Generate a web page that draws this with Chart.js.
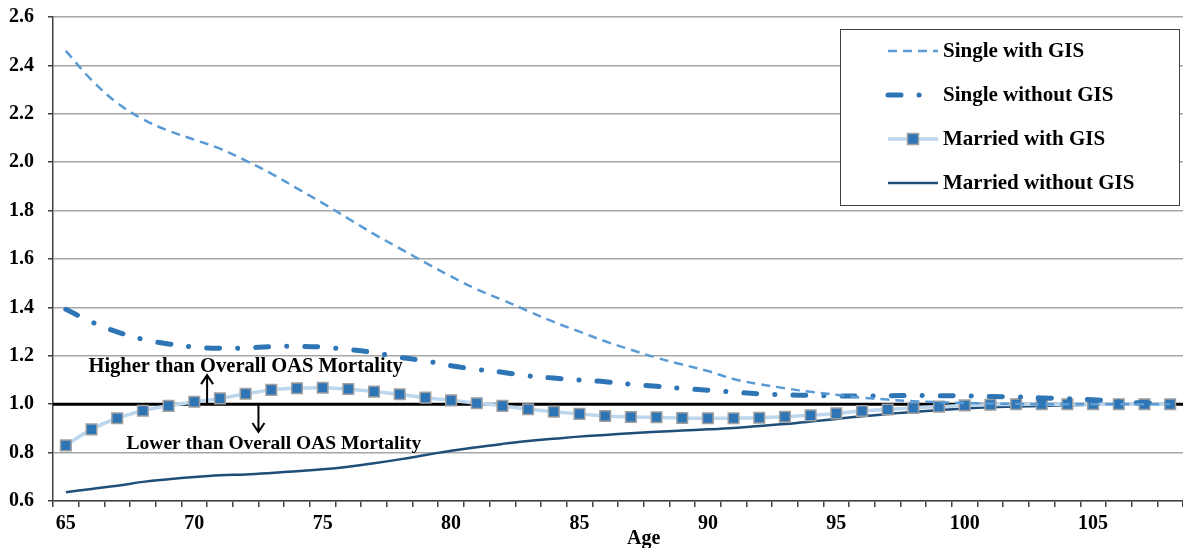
<!DOCTYPE html>
<html>
<head>
<meta charset="utf-8">
<title>Mortality ratio by age</title>
<script src="https://cdn.jsdelivr.net/npm/chart.js@4.4.1/dist/chart.umd.min.js"></script>
<style>
  html, body { margin: 0; padding: 0; background: #fff; }
  #wrap { width: 1183px; height: 548px; }
</style>
</head>
<body>
<div id="wrap"><canvas id="chart" width="1183" height="548"></canvas></div>
<script>
// Ages on the x axis
const ages = [65, 66, 67, 68, 69, 70, 71, 72, 73, 74, 75, 76, 77, 78, 79, 80, 81, 82, 83, 84, 85, 86,
    87, 88, 89, 90, 91, 92, 93, 94, 95, 96, 97, 98, 99, 100, 101, 102, 103, 104, 105, 106, 107, 108];

// Ratio to overall OAS mortality
const singleWithGIS = [2.46, 2.34, 2.245, 2.178, 2.13, 2.093, 2.056, 2.007, 1.953, 1.892,
    1.831, 1.767, 1.703, 1.644, 1.585, 1.528, 1.475, 1.431, 1.385, 1.34,
    1.30, 1.26, 1.225, 1.192, 1.164, 1.137, 1.104, 1.083, 1.066, 1.051,
    1.039, 1.027, 1.019, 1.012, 1.008, 1.005, 1.003, 1.001, 1.0, 1.0,
    1.0, 1.0, 1.0, 1.0];
const singleWithoutGIS = [1.392, 1.34, 1.299, 1.268, 1.249, 1.236, 1.231, 1.232, 1.238, 1.239,
    1.236, 1.226, 1.213, 1.194, 1.179, 1.159, 1.144, 1.132, 1.117, 1.108,
    1.100, 1.093, 1.082, 1.074, 1.065, 1.058, 1.050, 1.043, 1.039, 1.036,
    1.034, 1.034, 1.035, 1.036, 1.035, 1.034, 1.032, 1.030, 1.026, 1.023,
    1.018, 1.010, 1.005, 1.003];
const marriedWithGIS = [0.830, 0.896, 0.942, 0.973, 0.993, 1.010, 1.024, 1.043, 1.059, 1.066,
    1.068, 1.063, 1.052, 1.041, 1.027, 1.016, 1.004, 0.993, 0.979, 0.969,
    0.960, 0.951, 0.947, 0.946, 0.943, 0.942, 0.942, 0.944, 0.948, 0.954,
    0.962, 0.972, 0.978, 0.985, 0.990, 0.995, 0.998, 1.0, 1.0, 1.0,
    1.0, 1.0, 1.0, 1.0];
const marriedWithoutGIS = [0.636, 0.650, 0.663, 0.679, 0.690, 0.699, 0.706, 0.710, 0.716, 0.723,
    0.731, 0.742, 0.756, 0.772, 0.790, 0.808, 0.822, 0.836, 0.848, 0.857,
    0.866, 0.873, 0.880, 0.886, 0.891, 0.896, 0.902, 0.910, 0.918, 0.928,
    0.939, 0.950, 0.960, 0.968, 0.975, 0.982, 0.987, 0.990, 0.993, 0.996,
    0.998, 1.0, 1.0, 1.0];

// Y axis range and the overall OAS reference level
const yMin = 0.6;
const yMax = 2.6;
const yStep = 0.2;
const baseline = 1.0;

const FONT = 'Liberation Serif';

// Reference line at 1.0 (drawn under the series)
const baselinePlugin = {
    id: 'baseline',
    beforeDatasetsDraw(chart) {
        const { ctx, chartArea, scales } = chart;
        const y = scales.y.getPixelForValue(baseline);
        ctx.save();
        ctx.strokeStyle = '#000';
        ctx.lineWidth = 3;
        ctx.beginPath();
        ctx.moveTo(chartArea.left, y);
        ctx.lineTo(chartArea.right, y);
        ctx.stroke();
        ctx.restore();
    }
};

function arrow(ctx, x, y1, y2) {
    const dir = y2 < y1 ? 1 : -1;
    ctx.beginPath();
    ctx.moveTo(x, y1);
    ctx.lineTo(x, y2);
    ctx.moveTo(x - 6, y2 + dir * 9);
    ctx.lineTo(x, y2);
    ctx.lineTo(x + 6, y2 + dir * 9);
    ctx.stroke();
}

// Higher / lower annotations, axis title and legend box
const annotationPlugin = {
    id: 'notes',
    afterDatasetsDraw(chart) {
        const { ctx, scales } = chart;
        const xs = scales.x, ys = scales.y;
        const px = age => xs.getPixelForValue(age - ages[0]);
        ctx.save();
        ctx.fillStyle = '#000';
        ctx.strokeStyle = '#000';
        ctx.lineWidth = 2;
        ctx.textAlign = 'center';
        ctx.textBaseline = 'middle';
        ctx.font = 'bold 20.5px "' + FONT + '"';
        ctx.fillText('Higher than Overall OAS Mortality', px(72), ys.getPixelForValue(1.155));
        ctx.font = 'bold 19.5px "' + FONT + '"';
        ctx.fillText('Lower than Overall OAS Mortality', px(73.1), ys.getPixelForValue(0.835));
        arrow(ctx, px(70.5), ys.getPixelForValue(baseline), ys.getPixelForValue(1.12));
        arrow(ctx, px(72.5), ys.getPixelForValue(baseline), ys.getPixelForValue(0.885));

        // x axis title
        ctx.font = 'bold 20px "' + FONT + '"';
        ctx.fillText('Age', px(87.5), chart.height - 9);

        // legend
        const bw = 339, bh = 176;
        const bx = chart.width - 4 - bw;
        const by = ys.top + 12;
        ctx.fillStyle = '#fff';
        ctx.fillRect(bx, by, bw, bh);
        ctx.strokeStyle = '#404040';
        ctx.lineWidth = 1;
        ctx.strokeRect(bx + 0.5, by + 0.5, bw, bh);
        ctx.textAlign = 'left';
        ctx.font = 'bold 21px "' + FONT + '"';
        chart.data.datasets.forEach((ds, i) => {
            const y = by + 22 + i * 44;
            const x0 = bx + 48, x1 = bx + 98;
            ctx.save();
            ctx.strokeStyle = ds.borderColor;
            ctx.lineWidth = ds.borderWidth;
            ctx.lineCap = ds.borderCapStyle || 'butt';
            ctx.setLineDash(ds.borderDash || []);
            ctx.beginPath();
            ctx.moveTo(x0, y);
            ctx.lineTo(ds.borderCapStyle === 'round' ? x1 - 12 : x1, y);
            ctx.stroke();
            ctx.restore();
            if (ds.pointRadius > 0) {
                const s = 11;
                ctx.fillStyle = ds.pointBackgroundColor;
                ctx.strokeStyle = ds.pointBorderColor;
                ctx.lineWidth = ds.pointBorderWidth;
                ctx.fillRect((x0 + x1) / 2 - s / 2, y - s / 2, s, s);
                ctx.strokeRect((x0 + x1) / 2 - s / 2, y - s / 2, s, s);
            }
            ctx.fillStyle = '#000';
            ctx.fillText(ds.label, x1 + 5, y + 1);
        });
        ctx.restore();
    }
};

const ctx = document.getElementById('chart').getContext('2d');
new Chart(ctx, {
    type: 'line',
    data: {
        labels: ages.map(String),
        datasets: [
            {
                label: 'Single with GIS',
                data: singleWithGIS,
                borderColor: '#5B9BD5',
                borderWidth: 2.5,
                borderDash: [9, 6],
                pointRadius: 0,
                tension: 0.4
            },
            {
                label: 'Single without GIS',
                data: singleWithoutGIS,
                borderColor: '#2E75B6',
                borderWidth: 5,
                borderDash: [13, 18, 0.1, 18],
                borderCapStyle: 'round',
                pointRadius: 0,
                tension: 0.4
            },
            {
                label: 'Married with GIS',
                data: marriedWithGIS,
                borderColor: '#BDD7EE',
                borderWidth: 3.5,
                pointStyle: 'rect',
                pointRadius: 7.5,
                pointBackgroundColor: '#2E75B6',
                pointBorderColor: '#A0A0A0',
                pointBorderWidth: 1.5,
                tension: 0.4
            },
            {
                label: 'Married without GIS',
                data: marriedWithoutGIS,
                borderColor: '#1F4E79',
                borderWidth: 2.5,
                pointRadius: 0,
                tension: 0.4
            }
        ]
    },
    options: {
        responsive: false,
        animation: false,
        layout: { autoPadding: false, padding: { top: 17, right: -8, left: 0, bottom: 0 } },
        plugins: {
            legend: { display: false },
            tooltip: { enabled: false }
        },
        scales: {
            x: {
                type: 'category',
                offset: true,
                afterFit(scale) {
                    scale.height = 47;
                    scale.paddingLeft = 0;
                    scale.paddingRight = 0;
                },
                border: { color: '#404040', width: 1.5 },
                grid: {
                    offset: true,
                    drawOnChartArea: false,
                    drawTicks: true,
                    tickLength: 6,
                    tickColor: '#404040',
                    lineWidth: 1.5
                },
                ticks: {
                    autoSkip: false,
                    maxRotation: 0,
                    padding: 5,
                    color: '#000',
                    font: { family: FONT, size: 20, weight: 'bold' },
                    callback: (val, i) => ages[i] % 5 === 0 ? String(ages[i]) : ''
                }
            },
            y: {
                min: yMin,
                max: yMax,
                afterFit(scale) {
                    scale.width = 53;
                    scale.paddingTop = 0;
                    scale.paddingBottom = 0;
                },
                border: { color: '#404040', width: 1.5 },
                grid: {
                    color: '#A6A6A6',
                    lineWidth: 1.5,
                    tickLength: 5,
                    tickColor: '#404040'
                },
                ticks: {
                    stepSize: yStep,
                    padding: 14,
                    color: '#000',
                    font: { family: FONT, size: 20, weight: 'bold' },
                    callback: v => v.toFixed(1)
                }
            }
        }
    },
    plugins: [baselinePlugin, annotationPlugin]
});
</script>
</body>
</html>
